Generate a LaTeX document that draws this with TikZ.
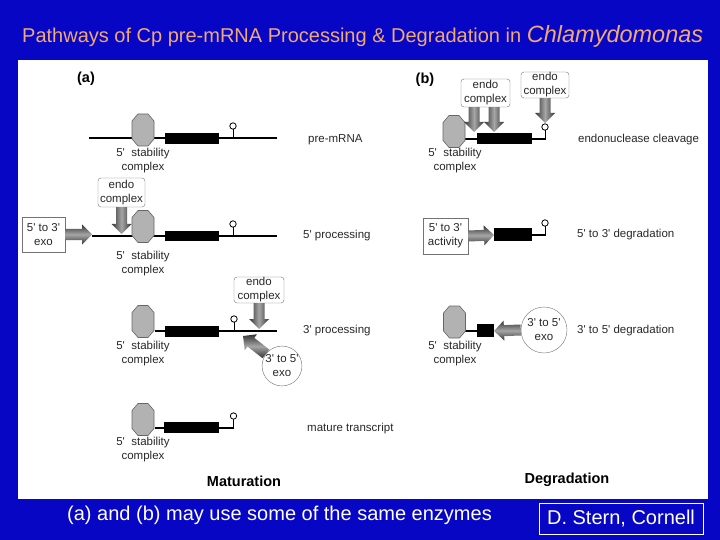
\documentclass[tikz,border=0pt]{standalone}
\usepackage{fontspec}
\setmainfont{Liberation Sans}
\usetikzlibrary{calc}
\definecolor{bgblue}{RGB}{6,6,196}
\definecolor{titleor}{RGB}{240,168,118}
\definecolor{lbl}{RGB}{40,40,40}
\newcommand\pq{\textquotesingle}
\tikzset{
  lab/.style={text=lbl, font=\fontsize{11.5}{14}\selectfont, inner sep=0pt, anchor=west},
  stab/.style={text=lbl, font=\fontsize{11.5}{14}\selectfont, align=center, inner sep=0pt},
  endobox/.style={draw=black!55, fill=white, rounded corners=3pt, align=center, text=lbl,
    font=\fontsize{11.5}{14}\selectfont, inner sep=0pt},
  exobox/.style={draw=black!55, fill=white, align=center, text=lbl,
    font=\fontsize{11.5}{14}\selectfont, inner sep=0pt},
  exocirc/.style={circle, draw=black!55, fill=white, align=center, text=lbl,
    font=\fontsize{11.5}{14}\selectfont, inner sep=0pt},
  heading/.style={font=\bfseries\fontsize{14.5}{16}\selectfont, text=black, inner sep=0pt},
  rna/.style={line width=2.4pt, black},
  harrow/.style={top color=black!80, bottom color=black!80, middle color=black!35},
  varrow/.style={left color=black!80, right color=black!80, middle color=black!35},
  octa/.pic={\draw[fill=black!30, draw=black!60, line width=0.6pt]
     (-11,-9) -- (-5,-16) -- (5,-16) -- (11,-9) -- (11,9) -- (5,16) -- (-5,16) -- (-11,9) -- cycle;},
  stemloop/.pic={\draw[black, line width=0.9pt] (0,0) -- (0,-9);
     \draw[black, fill=white, line width=0.8pt] (0,-12) circle (3.2pt);}
}
\newcommand\blockarrow[3][harrow]{%
  \shade[#1] let \p1=(#2), \p2=(#3), \n1={atan2(\y2-\y1,\x2-\x1)},
     \n2={veclen(\x2-\x1,\y2-\y1)}, \n3={\n2-10pt} in
  [shift={(\x1,\y1)}, rotate=\n1] (0pt,-5.5pt) -- (\n3,-5.5pt) -- (\n3,-10pt)
     -- (\n2,0pt) -- (\n3,10pt) -- (\n3,5.5pt) -- (0pt,5.5pt) -- cycle;}

\begin{document}
\begin{tikzpicture}[x=1pt, y=-1pt]
\useasboundingbox (0,0) rectangle (720,540);
\fill[bgblue] (0,0) rectangle (720,540);
\fill[white] (18,60) rectangle (708,499);

% title
\node[anchor=west, text=titleor, inner sep=0pt, font=\fontsize{20}{24}\selectfont] (title) at (22,36)
  {Pathways of Cp pre-mRNA Processing \& Degradation in {\fontsize{23.5}{26}\selectfont\itshape Chlamydomonas}};

% ---------------- panel (a) ----------------
\node[heading] (pa) at (86,79) {(a)};

% row A1: pre-mRNA
\draw[rna] (89,138) -- (277,138);
\fill (165,133) rectangle (219,144);
\pic at (233,138) {stemloop};
\pic at (143,130) {octa};
\node[stab] (sA1) at (143,161) {5\pq\ \ stability\\complex};
\node[lab] (tA1) at (308,140) {pre-mRNA};

% row A2: 5' processing
\draw[rna] (92,236) -- (277,236);
\fill (165,231) rectangle (219,241);
\pic at (233,236) {stemloop};
\pic at (143,226.5) {octa};
\node[stab] (sA2) at (143,264) {5\pq\ \ stability\\complex};
\node[lab] (tA2) at (303,236) {5\pq\ processing};
\node[endobox, minimum width=47pt, minimum height=29pt] (endoA2) at (121.5,192.5) {endo\\complex};
\coordinate (tipA2) at (121.5,234);
\blockarrow[varrow]{endoA2.south}{tipA2}
\node[exobox, minimum width=43pt, minimum height=35pt] (exoA2) at (43.5,234.5) {5\pq\ to 3\pq\\exo};
\coordinate (tipA2b) at (92,234.5);
\blockarrow[harrow]{exoA2.east}{tipA2b}

% row A3: 3' processing
\draw[rna] (155,331) -- (277,331);
\fill (165,326) rectangle (219,337);
\pic at (234,331) {stemloop};
\pic at (143,321.5) {octa};
\node[stab] (sA3) at (143,354) {5\pq\ \ stability\\complex};
\node[lab] (tA3) at (303,331) {3\pq\ processing};
\node[endobox, minimum width=50pt, minimum height=26pt] (endoA3) at (259,290) {endo\\complex};
\coordinate (tipA3) at (259,329);
\blockarrow[varrow]{endoA3.south}{tipA3}
\node[exocirc, minimum size=38pt] (circA) at (282,366) {3\pq\ to 5\pq\\exo};
\coordinate (tipA3b) at (243,336);
\blockarrow[harrow]{circA.143}{tipA3b}

% row A4: mature transcript
\draw[rna] (155,428) -- (234,428);
\fill (164,422) rectangle (219,433);
\pic at (233.5,428) {stemloop};
\pic at (143,419.5) {octa};
\node[stab] (sA4) at (143,450) {5\pq\ \ stability\\complex};
\node[lab] (tA4) at (307,429) {mature transcript};

\node[heading] (mat) at (244,481) {Maturation};

% ---------------- panel (b) ----------------
\node[heading] (pb) at (425,80) {(b)};

% row B1: endonuclease cleavage
\draw[rna] (465,139) -- (546,139);
\fill (477,133) rectangle (532,144);
\pic at (545,139) {stemloop};
\pic at (454,131.5) {octa};
\node[stab] (sB1) at (455,161) {5\pq\ \ stability\\complex};
\node[lab] (tB1) at (578,140) {endonuclease cleavage};
\node[endobox, minimum width=49pt, minimum height=28pt] (endoB1) at (485.5,93) {endo\\complex};
\node[endobox, minimum width=48pt, minimum height=26pt] (endoB2) at (545,85) {endo\\complex};
\coordinate (tipB1a) at (474,132);
\coordinate (tipB1b) at (494,132);
\coordinate (tipB2) at (545,123);
\blockarrow[varrow]{endoB1.south -| tipB1a}{tipB1a}
\blockarrow[varrow]{endoB1.south -| tipB1b}{tipB1b}
\blockarrow[varrow]{endoB2.south}{tipB2}

% row B2: 5' to 3' degradation
\draw[rna] (532,235) -- (546,235);
\fill (494,228) rectangle (532,241);
\pic at (545,235) {stemloop};
\node[exobox, minimum width=45pt, minimum height=36pt] (actB) at (445.5,236) {5\pq\ to 3\pq\\activity};
\coordinate (tipB3) at (494,235);
\blockarrow[harrow]{actB.east}{tipB3}
\node[lab] (tB2) at (577,235) {5\pq\ to 3\pq\ degradation};

% row B3: 3' to 5' degradation
\draw[rna] (465,331) -- (478,331);
\fill (477,324) rectangle (494,337);
\pic at (454.5,322) {octa};
\node[stab] (sB3) at (455,354) {5\pq\ \ stability\\complex};
\node[exocirc, minimum size=46pt] (circB) at (544,330) {3\pq\ to 5\pq\\exo};
\coordinate (tipB4) at (494,331);
\blockarrow[harrow]{circB.west}{tipB4}
\node[lab] (tB3) at (577,331) {3\pq\ to 5\pq\ degradation};

\node[heading] (deg) at (567,480) {Degradation};

% ---------------- footer ----------------
\node[anchor=west, text=white, inner sep=0pt, font=\fontsize{20}{24}\selectfont] (foot) at (67,515)
  {(a) and (b) may use some of the same enzymes};
\node[draw=white, line width=0.8pt, text=white, minimum width=164pt, minimum height=31pt,
  inner sep=0pt, font=\fontsize{20}{24}\selectfont] (credit) at (621,518.5) {D. Stern, Cornell};
\end{tikzpicture}
\end{document}
